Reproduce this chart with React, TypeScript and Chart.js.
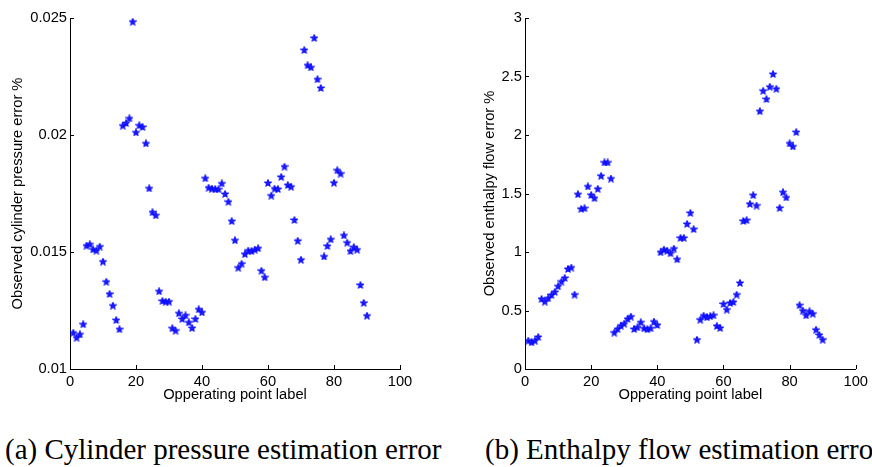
import React, { useEffect, useRef } from 'react';
import { Chart, registerables } from 'chart.js';

Chart.register(...registerables);

// ---------- data ----------
const pointLabels = [
  1, 2, 3, 4, 5, 6, 7, 8, 9, 10, 11, 12, 13, 14, 15, 16, 17, 18, 19, 20,
  21, 22, 23, 24, 25, 26, 27, 28, 29, 30, 31, 32, 33, 34, 35, 36, 37, 38, 39, 40,
  41, 42, 43, 44, 45, 46, 47, 48, 49, 50, 51, 52, 53, 54, 55, 56, 57, 58, 59, 60,
  61, 62, 63, 64, 65, 66, 67, 68, 69, 70, 71, 72, 73, 74, 75, 76, 77, 78, 79, 80,
  81, 82, 83, 84, 85, 86, 87, 88, 89, 90,
];

const cylinderPressureError = [
  0.01155, 0.01134, 0.01148, 0.01191, 0.01527, 0.01533, 0.01511, 0.01506, 0.01523, 0.01459,
  0.01373, 0.01321, 0.01271, 0.01209, 0.0117, 0.0204, 0.02051, 0.02071, 0.02484, 0.02011,
  0.02041, 0.02034, 0.01964, 0.01772, 0.0167, 0.01657, 0.01332, 0.01291, 0.01288, 0.01288,
  0.01174, 0.01164, 0.01238, 0.01214, 0.01229, 0.01199, 0.01175, 0.01214, 0.01255, 0.01242,
  0.01815, 0.01775, 0.01771, 0.01769, 0.01768, 0.01793, 0.01748, 0.01715, 0.01632, 0.0155,
  0.01433, 0.0145, 0.01491, 0.01506, 0.01504, 0.0151, 0.01516, 0.0142, 0.01392, 0.01795,
  0.01741, 0.01771, 0.01769, 0.01821, 0.01865, 0.01786, 0.01779, 0.01637, 0.01548, 0.01467,
  0.02363, 0.02298, 0.02289, 0.02415, 0.02238, 0.02201, 0.01481, 0.01526, 0.01554, 0.01796,
  0.01849, 0.01835, 0.01571, 0.0154, 0.01504, 0.01521, 0.0151, 0.01359, 0.01283, 0.01228,
];

const enthalpyFlowError = [
  0.242, 0.228, 0.242, 0.274, 0.599, 0.576, 0.605, 0.633, 0.659, 0.707,
  0.747, 0.778, 0.855, 0.867, 0.636, 1.494, 1.369, 1.374, 1.56, 1.488,
  1.46, 1.54, 1.651, 1.765, 1.765, 1.628, 0.311, 0.342, 0.371, 0.388,
  0.428, 0.448, 0.342, 0.356, 0.399, 0.348, 0.339, 0.348, 0.405, 0.376,
  0.998, 1.021, 1.012, 0.989, 1.029, 0.938, 1.121, 1.121, 1.24, 1.334,
  1.195, 0.251, 0.422, 0.456, 0.442, 0.451, 0.459, 0.368, 0.351, 0.556,
  0.508, 0.565, 0.573, 0.636, 0.736, 1.266, 1.272, 1.411, 1.486, 1.397,
  2.204, 2.378, 2.307, 2.412, 2.521, 2.395, 1.377, 1.511, 1.466, 1.928,
  1.902, 2.025, 0.545, 0.499, 0.459, 0.493, 0.473, 0.336, 0.291, 0.251,
];

const xTicks = [0, 20, 40, 60, 80, 100];
const xTickLabels = ['0', '20', '40', '60', '80', '100'];
const cylinderYTicks = [0.01, 0.015, 0.02, 0.025];
const cylinderYTickLabels = ['0.01', '0.015', '0.02', '0.025'];
const enthalpyYTicks = [0, 0.5, 1, 1.5, 2, 2.5, 3];
const enthalpyYTickLabels = ['0', '0.5', '1', '1.5', '2', '2.5', '3'];

const xTitle = 'Opperating point label';
const cylinderYTitle = 'Observed cylinder pressure error %';
const enthalpyYTitle = 'Observed enthalpy flow error %';
const captionA = '(a) Cylinder pressure estimation error';
const captionB = '(b) Enthalpy flow estimation error';

// ---------- helpers ----------
const SANS = '"Liberation Sans", Arial, Helvetica, sans-serif';
const FONT_SIZE = 14.7;

function makeStar(): HTMLCanvasElement {
  const c = document.createElement('canvas');
  c.width = 8;
  c.height = 8;
  const ctx = c.getContext('2d') as CanvasRenderingContext2D;
  const cx = 4;
  const cy = 4.3;
  const R = 3.8;
  const r = 1.6;
  ctx.beginPath();
  for (let k = 0; k < 10; k++) {
    const ang = -Math.PI / 2 + (k * Math.PI) / 5;
    const rad = k % 2 === 0 ? R : r;
    const px = cx + rad * Math.cos(ang);
    const py = cy + rad * Math.sin(ang);
    if (k === 0) ctx.moveTo(px, py);
    else ctx.lineTo(px, py);
  }
  ctx.closePath();
  ctx.fillStyle = '#1a1aff';
  ctx.fill();
  ctx.strokeStyle = '#0000ff';
  ctx.lineWidth = 0.9;
  ctx.stroke();
  return c;
}

const inwardTicks = {
  id: 'inwardTicks',
  afterDraw(chart: any) {
    const { ctx, chartArea } = chart;
    const xs = chart.scales.x;
    const ys = chart.scales.y;
    ctx.save();
    ctx.strokeStyle = '#000';
    ctx.lineWidth = 1;
    ctx.beginPath();
    xs.ticks.forEach((t: any) => {
      const px = Math.round(xs.getPixelForValue(t.value)) + 0.5;
      ctx.moveTo(px, chartArea.bottom);
      ctx.lineTo(px, chartArea.bottom - 4);
    });
    ys.ticks.forEach((t: any) => {
      const py = Math.round(ys.getPixelForValue(t.value)) + 0.5;
      ctx.moveTo(chartArea.left, py);
      ctx.lineTo(chartArea.left + 4, py);
    });
    ctx.stroke();
    ctx.restore();
  },
};

function buildConfig(
  values: number[],
  yTicks: number[],
  yTickLabels: string[],
  yTitle: string,
  yAxisWidth: number,
  padRight: number,
  star: HTMLCanvasElement
): any {
  return {
    type: 'scatter',
    data: {
      datasets: [
        {
          data: pointLabels.map((x, i) => ({ x, y: values[i] })),
          showLine: false,
          pointStyle: star,
          pointRadius: 4,
          borderColor: '#0000ff',
          backgroundColor: '#0000ff',
        },
      ],
    },
    options: {
      responsive: false,
      animation: false,
      events: [],
      layout: { autoPadding: false, padding: { left: 0, top: 18, right: padRight, bottom: 0 } },
      plugins: { legend: { display: false }, tooltip: { enabled: false } },
      scales: {
        x: {
          type: 'linear',
          min: xTicks[0],
          max: xTicks[xTicks.length - 1],
          afterBuildTicks: (scale: any) => {
            scale.ticks = xTicks.map((v) => ({ value: v }));
          },
          afterFit: (scale: any) => {
            scale.height = 41;
          },
          grid: { display: false, drawTicks: false },
          border: { display: true, color: '#000', width: 1 },
          ticks: {
            color: '#000',
            padding: 4,
            maxRotation: 0,
            autoSkip: false,
            font: { family: SANS, size: FONT_SIZE },
            callback: (v: number) => {
              const i = xTicks.indexOf(v);
              return i >= 0 ? xTickLabels[i] : '';
            },
          },
          title: {
            display: true,
            text: xTitle,
            color: '#000',
            font: { family: SANS, size: FONT_SIZE },
            padding: { top: 0, bottom: 6 },
          },
        },
        y: {
          type: 'linear',
          min: yTicks[0],
          max: yTicks[yTicks.length - 1],
          afterBuildTicks: (scale: any) => {
            scale.ticks = yTicks.map((v) => ({ value: v }));
          },
          afterFit: (scale: any) => {
            scale.width = yAxisWidth;
          },
          grid: { display: false, drawTicks: false },
          border: { display: true, color: '#000', width: 1 },
          ticks: {
            color: '#000',
            padding: 3,
            autoSkip: false,
            font: { family: SANS, size: FONT_SIZE },
            callback: (v: number) => {
              const i = yTicks.indexOf(v);
              return i >= 0 ? yTickLabels[i] : '';
            },
          },
          title: {
            display: true,
            text: yTitle,
            color: '#000',
            font: { family: SANS, size: FONT_SIZE },
            padding: { top: 9, bottom: 0 },
          },
        },
      },
    },
    plugins: [inwardTicks],
  };
}

function ScatterPanel(props: {
  left: number;
  width: number;
  height: number;
  values: number[];
  yTicks: number[];
  yTickLabels: string[];
  yTitle: string;
  yAxisWidth: number;
  padRight: number;
}) {
  const ref = useRef<HTMLCanvasElement | null>(null);
  useEffect(() => {
    if (!ref.current) return;
    const star = makeStar();
    const chart = new Chart(
      ref.current,
      buildConfig(props.values, props.yTicks, props.yTickLabels, props.yTitle, props.yAxisWidth, props.padRight, star)
    );
    return () => chart.destroy();
  }, []);
  return (
    <canvas
      ref={ref}
      width={props.width}
      height={props.height}
      style={{
        position: 'absolute',
        left: props.left,
        top: 0,
        width: props.width,
        height: props.height,
        display: 'block',
      }}
    />
  );
}

export default function App() {
  const captionStyle: React.CSSProperties = {
    position: 'absolute',
    top: 435,
    fontFamily: '"Liberation Serif", "Times New Roman", serif',
    fontSize: 29,
    lineHeight: '29px',
    color: '#000',
    whiteSpace: 'nowrap',
  };
  return (
    <div
      style={{
        position: 'absolute',
        left: 0,
        top: 0,
        width: 872,
        height: 467,
        overflow: 'hidden',
        background: '#fff',
      }}
    >
      <ScatterPanel
        left={0}
        width={440}
        height={410}
        values={cylinderPressureError}
        yTicks={cylinderYTicks}
        yTickLabels={cylinderYTickLabels}
        yTitle={cylinderYTitle}
        yAxisWidth={70}
        padRight={40}
      />
      <ScatterPanel
        left={472}
        width={400}
        height={410}
        values={enthalpyFlowError}
        yTicks={enthalpyYTicks}
        yTickLabels={enthalpyYTickLabels}
        yTitle={enthalpyYTitle}
        yAxisWidth={53}
        padRight={12}
      />
      <div style={{ ...captionStyle, left: 5 }}>{captionA}</div>
      <div style={{ ...captionStyle, left: 485 }}>{captionB}</div>
    </div>
  );
}
